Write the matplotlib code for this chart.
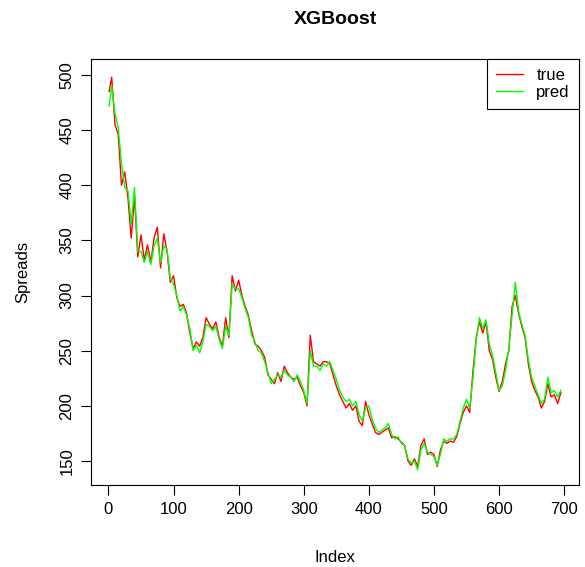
import matplotlib.pyplot as plt
import numpy as np

plt.rcParams['font.family'] = ['Liberation Sans', 'DejaVu Sans']

# sampled every 5 steps from the original series
index = [1] + list(range(5, 696, 5))
true_vals = [485, 498, 455, 446, 400, 412, 388, 352, 390, 335,
             355, 332, 346, 330, 352, 362, 325, 356, 340, 312,
             318, 298, 290, 292, 284, 266, 252, 258, 254, 262,
             280, 274, 270, 276, 262, 254, 280, 262, 318, 304,
             314, 300, 290, 282, 268, 256, 254, 250, 244, 228,
             224, 220, 230, 222, 236, 230, 226, 224, 226, 218,
             212, 200, 264, 240, 238, 236, 240, 240, 238, 228,
             218, 210, 204, 198, 202, 196, 200, 186, 182, 204,
             192, 184, 176, 174, 176, 178, 180, 171, 172, 170,
             167, 164, 150, 146, 152, 145, 164, 170, 156, 158,
             156, 145, 160, 168, 166, 168, 167, 172, 184, 194,
             200, 194, 232, 262, 276, 266, 276, 250, 242, 226,
             213, 222, 238, 250, 290, 300, 284, 272, 262, 238,
             222, 214, 208, 198, 204, 220, 208, 210, 202, 212]
pred_vals = [472, 490, 465, 452, 420, 398, 395, 365, 398, 340,
             340, 330, 340, 328, 345, 352, 330, 345, 342, 316,
             310, 300, 286, 290, 282, 270, 250, 255, 248, 258,
             274, 272, 268, 272, 260, 252, 272, 264, 310, 306,
             306, 298, 288, 280, 264, 258, 250, 248, 240, 230,
             220, 224, 228, 226, 232, 228, 226, 222, 228, 222,
             214, 202, 250, 236, 236, 232, 238, 236, 240, 232,
             224, 214, 208, 204, 206, 200, 204, 192, 186, 198,
             200, 188, 180, 176, 178, 180, 184, 174, 170, 172,
             166, 164, 152, 148, 150, 142, 160, 166, 158, 156,
             154, 146, 156, 170, 168, 170, 170, 174, 186, 198,
             206, 198, 226, 260, 280, 270, 278, 256, 246, 230,
             214, 218, 232, 252, 282, 312, 286, 274, 264, 242,
             226, 218, 210, 202, 206, 226, 212, 214, 208, 214]

fig = plt.figure(figsize=(5.85, 5.67), dpi=100)
ax = fig.add_axes([0.1556, 0.1446, 0.8341, 0.7514])

ax.plot(index, true_vals, color='#FF0000', lw=1, label='true')
ax.plot(index, pred_vals, color='#00FF00', lw=1, label='pred')

ax.set_xlim(-26.8, 722.8)
ax.set_ylim(128.2, 514.5)
ax.set_xticks(np.arange(0, 701, 100))
ax.set_yticks(np.arange(150, 501, 50))
ax.tick_params(direction='out', length=7, labelsize=12, width=0.8, pad=5)
for lab in ax.get_yticklabels():
    lab.set_rotation(90)
    lab.set_va('center')
for s in ax.spines.values():
    s.set_linewidth(0.8)

ax.set_xlabel('Index', fontsize=12, labelpad=24)
ax.set_ylabel('Spreads', fontsize=12, labelpad=21)
ax.set_title('XGBoost', fontsize=14, fontweight='bold', pad=25)

leg = ax.legend(loc='upper right', borderaxespad=0, fancybox=False,
                edgecolor='black', framealpha=1, fontsize=12,
                handlelength=1.6, handletextpad=0.8, borderpad=0.55,
                labelspacing=0.1)
leg.get_frame().set_linewidth(0.8)

plt.savefig('out.png', dpi=100)
